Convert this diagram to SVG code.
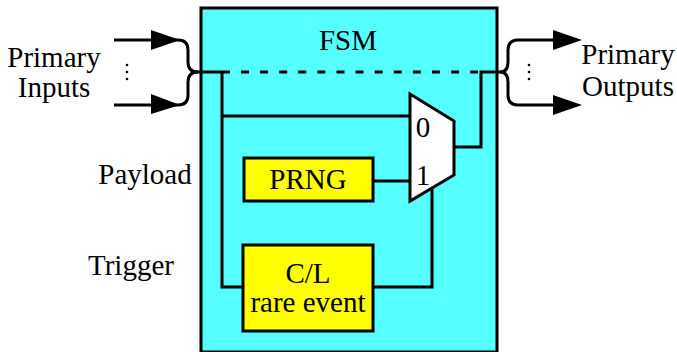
<svg xmlns="http://www.w3.org/2000/svg" width="677" height="352" viewBox="0 0 677 352">
<style>
text{font-family:"Liberation Serif","Times New Roman",serif;font-size:29px;fill:#000;text-anchor:middle}
.w{fill:none;stroke:#000;stroke-width:3}
.b{fill:#ff0;stroke:#000;stroke-width:3}
.a{fill:#000;stroke:none}
.d{fill:#000}
</style>
<rect width="677" height="352" fill="#fff"/>
<g id="fsm"><rect x="201" y="8" width="296" height="344" fill="#5ff" stroke="#000" stroke-width="3"/><text x="348" y="50">FSM</text></g>
<g id="connectors">
<path class="w" d="M114 40H178Q188 40 188 50V62Q188 72 198 72H230M222 72V287H244"/>
<path class="w" d="M114 105H178Q188 105 188 95V82Q188 72 198 72"/>
<path class="w" d="M222 116H411"/>
<path class="w" d="M374 181H411"/>
<path class="w" d="M373 287H432V189"/>
<path class="w" d="M241 72H478" stroke-dasharray="8 11.1"/>
<path class="w" d="M454 147H481V72H497"/>
<path class="w" d="M497 72H500Q508 72 508 62V50Q508 40 518 40H555"/>
<path class="w" d="M500 72Q508 72 508 82V95Q508 105 518 105H555"/>
<polygon class="a" points="151,30 180,40 151,50"/>
<polygon class="a" points="151,94 180,105 151,114"/>
<polygon class="a" points="553,30 582,40 553,50"/>
<polygon class="a" points="553,95 582,105 553,115"/>
</g>
<g id="dots-in"><circle class="d" cx="127" cy="65" r="1.3"/><circle class="d" cx="127" cy="72" r="1.3"/><circle class="d" cx="127" cy="79" r="1.3"/></g>
<g id="dots-out"><circle class="d" cx="529" cy="65" r="1.3"/><circle class="d" cx="529" cy="72" r="1.3"/><circle class="d" cx="529" cy="79" r="1.3"/></g>
<g id="mux"><polygon points="410,94 454,121 454,175 410,201" fill="#fff" stroke="#000" stroke-width="3"/><text x="423" y="137">0</text><text x="423" y="185">1</text></g>
<g id="prng"><rect class="b" x="244" y="158" width="129" height="43"/><text x="308" y="189">PRNG</text></g>
<g id="cl"><rect class="b" x="243" y="245" width="130" height="86"/><text x="308" y="283">C/L</text><text x="308" y="312">rare event</text></g>
<g id="labels">
<text x="54" y="67">Primary</text><text x="54" y="97">Inputs</text>
<text x="628" y="64">Primary</text><text x="628" y="96">Outputs</text>
<text x="145" y="184">Payload</text><text x="131" y="275">Trigger</text>
</g>
</svg>
